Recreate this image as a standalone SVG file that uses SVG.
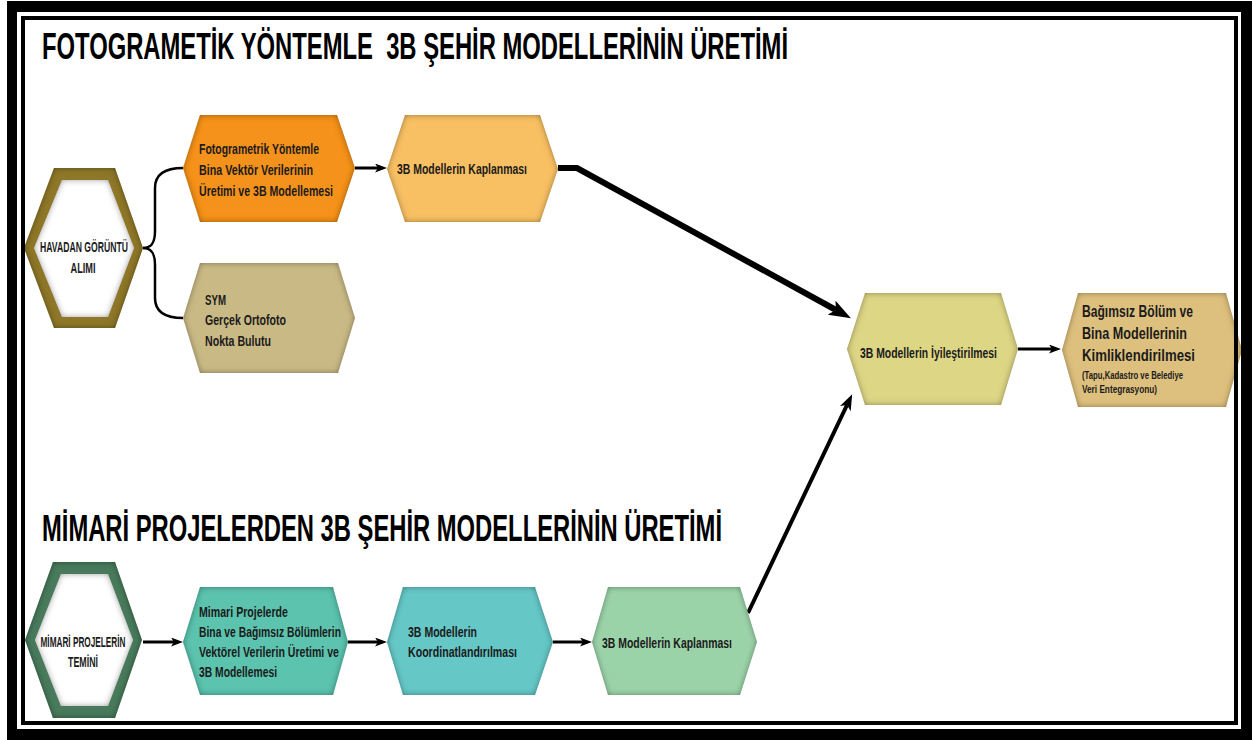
<svg xmlns="http://www.w3.org/2000/svg" width="1252" height="740" viewBox="0 0 1252 740">
<style>
.t{font-family:"Liberation Sans",Arial,sans-serif;font-weight:bold;fill:#1b1b1b;font-size:14.5px}
.tb{font-size:17px}
.ts{font-size:10.5px}
.title{font-family:"Liberation Sans",Arial,sans-serif;font-weight:bold;fill:#000;font-size:37px}
.c{text-anchor:middle}
.hex{filter:url(#inset)}
.con{fill:none;stroke:#000;stroke-linejoin:miter}
</style>
<defs>
<filter id="inset" x="-10%" y="-10%" width="120%" height="120%">
<feFlood flood-color="#000" flood-opacity="0.75" result="f"/>
<feComposite in="f" in2="SourceAlpha" operator="out" result="o"/>
<feGaussianBlur in="o" stdDeviation="3" result="b"/>
<feComposite in="b" in2="SourceAlpha" operator="in" result="s"/>
<feMerge><feMergeNode in="SourceGraphic"/><feMergeNode in="s"/></feMerge>
</filter>
<marker id="a1" viewBox="0 0 12 9" refX="3" refY="4.5" markerWidth="12" markerHeight="9" markerUnits="userSpaceOnUse" orient="auto"><path d="M0,0 L12,4.5 L0,9 L3,4.5 z" fill="#000"/></marker>
<marker id="a2" viewBox="0 0 22 16" refX="5" refY="8" markerWidth="22" markerHeight="16" markerUnits="userSpaceOnUse" orient="auto"><path d="M0,0 L22,8 L0,16 L5,8 z" fill="#000"/></marker>
<marker id="a3" viewBox="0 0 16 12" refX="4" refY="6" markerWidth="16" markerHeight="12" markerUnits="userSpaceOnUse" orient="auto"><path d="M0,0 L16,6 L0,12 L4,6 z" fill="#000"/></marker>
</defs>

<g id="frame-bg">
<rect x="7" y="1" width="1245" height="739" fill="#000"/>
<rect x="17" y="12" width="1224" height="717" fill="#fff"/>
</g>

<g id="titles">
<text class="title" x="42" y="59" textLength="746" lengthAdjust="spacingAndGlyphs" xml:space="preserve">FOTOGRAMETİK YÖNTEMLE  3B ŞEHİR MODELLERİNİN ÜRETİMİ</text>
<text class="title" x="42" y="541" textLength="680" lengthAdjust="spacingAndGlyphs">MİMARİ PROJELERDEN 3B ŞEHİR MODELLERİNİN ÜRETİMİ</text>
</g>

<g id="connectors">
<path class="con" stroke-width="2.5" d="M143,248 C152,248 155,242 155,231 L155,188 C155,174 166,168 183,168"/>
<path class="con" stroke-width="2.5" d="M143,248 C152,248 155,254 155,265 L155,298 C155,312 166,318 183,318"/>
<path class="con" stroke-width="3" d="M355,168 L378,168" marker-end="url(#a1)"/>
<path class="con" stroke-width="6" d="M558,168 L577,168 L836,310" marker-end="url(#a2)"/>
<path class="con" stroke-width="4" d="M748,613 L847,405" marker-end="url(#a3)"/>
<path class="con" stroke-width="3" d="M1018,349 L1052,349" marker-end="url(#a1)"/>
<path class="con" stroke-width="3" d="M143,642 L174,642" marker-end="url(#a1)"/>
<path class="con" stroke-width="3" d="M348,642 L378,642" marker-end="url(#a1)"/>
<path class="con" stroke-width="3" d="M553,642 L583,642" marker-end="url(#a1)"/>
</g>

<g id="n-havadan">
<polygon class="hex" fill="#8E772C" points="24,248 54,168 115,168 143,248 115,328 54,328"/>
<polygon class="hex" fill="#fff" points="34,248 62,180 108,180 134,248 108,317 62,317"/>
<text class="t c" x="84" y="252" textLength="88" lengthAdjust="spacingAndGlyphs">HAVADAN GÖRÜNTÜ</text>
<text class="t c" x="83" y="273" textLength="25" lengthAdjust="spacingAndGlyphs">ALIMI</text>
</g>

<g id="n-fotogrametrik">
<polygon class="hex" fill="#F5921F" points="183,168 200,115 337,115 355,168 337,222 200,222"/>
<text class="t" x="199" y="154" textLength="120" lengthAdjust="spacingAndGlyphs">Fotogrametrik Yöntemle</text>
<text class="t" x="199" y="175" textLength="114" lengthAdjust="spacingAndGlyphs">Bina Vektör Verilerinin</text>
<text class="t" x="199" y="196" textLength="134" lengthAdjust="spacingAndGlyphs">Üretimi ve 3B Modellemesi</text>
</g>

<g id="n-kaplanma1">
<polygon class="hex" fill="#F8C063" points="387,169 405,115 540,115 558,169 540,222 405,222"/>
<text class="t" x="397" y="174" textLength="130" lengthAdjust="spacingAndGlyphs">3B Modellerin Kaplanması</text>
</g>

<g id="n-sym">
<polygon class="hex" fill="#C9B985" points="183,318 200,263 338,263 355,318 338,373 200,373"/>
<text class="t" x="205" y="305" textLength="21" lengthAdjust="spacingAndGlyphs">SYM</text>
<text class="t" x="205" y="325" textLength="81" lengthAdjust="spacingAndGlyphs">Gerçek Ortofoto</text>
<text class="t" x="205" y="346" textLength="66" lengthAdjust="spacingAndGlyphs">Nokta Bulutu</text>
</g>

<g id="n-iyilestirme">
<polygon class="hex" fill="#DDD685" points="847,349 865,293 1001,293 1018,349 1001,405 865,405"/>
<text class="t" x="860" y="358" textLength="137" lengthAdjust="spacingAndGlyphs">3B Modellerin İyileştirilmesi</text>
</g>

<g id="n-kimlik">
<polygon class="hex" fill="#DEC07E" points="1062,350 1078,293 1226,293 1242,350 1226,407 1078,407"/>
<text class="t tb" x="1082" y="317" textLength="111" lengthAdjust="spacingAndGlyphs">Bağımsız Bölüm ve</text>
<text class="t tb" x="1082" y="339" textLength="105" lengthAdjust="spacingAndGlyphs">Bina Modellerinin</text>
<text class="t tb" x="1082" y="361" textLength="113" lengthAdjust="spacingAndGlyphs">Kimliklendirilmesi</text>
<text class="t ts" x="1082" y="379" textLength="101" lengthAdjust="spacingAndGlyphs">(Tapu,Kadastro ve Belediye</text>
<text class="t ts" x="1082" y="393" textLength="75" lengthAdjust="spacingAndGlyphs">Veri Entegrasyonu)</text>
</g>

<g id="n-mimari">
<polygon class="hex" fill="#4A7A5C" points="25,640 53,562 115,562 142,640 115,718 53,718"/>
<polygon class="hex" fill="#fff" points="35,640 61,574 108,574 133,640 108,706 61,706"/>
<text class="t c" x="83" y="647" textLength="85" lengthAdjust="spacingAndGlyphs">MİMARİ PROJELERİN</text>
<text class="t c" x="83" y="667" textLength="30" lengthAdjust="spacingAndGlyphs">TEMİNİ</text>
</g>

<g id="n-vektorel">
<polygon class="hex" fill="#5CC3AE" points="183,642 200,587 333,587 348,642 333,695 200,695"/>
<text class="t" x="199" y="617" textLength="89" lengthAdjust="spacingAndGlyphs">Mimari Projelerde</text>
<text class="t" x="199" y="637" textLength="142" lengthAdjust="spacingAndGlyphs">Bina ve Bağımsız Bölümlerin</text>
<text class="t" x="199" y="657" textLength="140" lengthAdjust="spacingAndGlyphs">Vektörel Verilerin Üretimi ve</text>
<text class="t" x="199" y="677" textLength="78" lengthAdjust="spacingAndGlyphs">3B Modellemesi</text>
</g>

<g id="n-koordinat">
<polygon class="hex" fill="#66C7C7" points="387,642 403,587 535,587 553,642 535,695 403,695"/>
<text class="t" x="408" y="637" textLength="69" lengthAdjust="spacingAndGlyphs">3B Modellerin</text>
<text class="t" x="408" y="657" textLength="109" lengthAdjust="spacingAndGlyphs">Koordinatlandırılması</text>
</g>

<g id="n-kaplanma2">
<polygon class="hex" fill="#9BD3A9" points="592,642 608,587 740,587 757,642 740,695 608,695"/>
<text class="t" x="602" y="648" textLength="130" lengthAdjust="spacingAndGlyphs">3B Modellerin Kaplanması</text>
</g>

<g id="frame-fg">
<path fill="#fff" fill-rule="evenodd" d="M0,0 H1252 V740 H0 Z M17,12 V729 H1241 V12 Z"/>
<path fill="#000" fill-rule="evenodd" d="M7,1 H1252 V740 H7 Z M17,12 V729 H1241 V12 Z"/>
<rect x="23" y="18" width="1213" height="705" fill="none" stroke="#000" stroke-width="4"/>
</g>
</svg>
